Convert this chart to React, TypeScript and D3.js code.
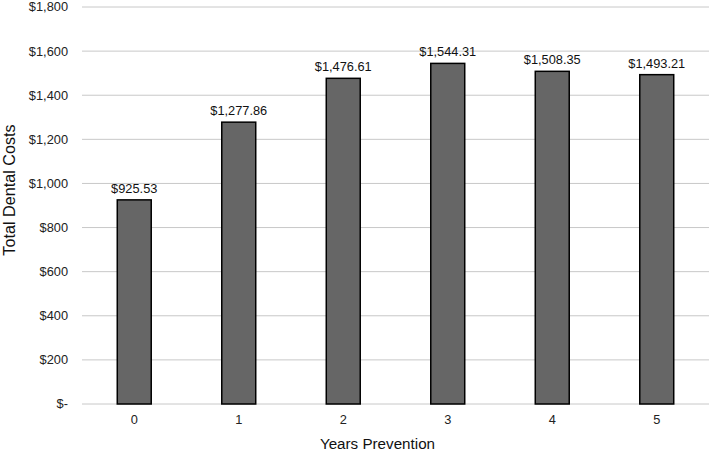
import React from "react";
import * as d3 from "d3";

const categories = ["0", "1", "2", "3", "4", "5"];
const values = [925.53, 1277.86, 1476.61, 1544.31, 1508.35, 1493.21];
const yTicks = [0, 200, 400, 600, 800, 1000, 1200, 1400, 1600, 1800];
const xTitle = "Years Prevention";
const yTitle = "Total Dental Costs";

const W = 709;
const H = 458;
const margin = { top: 7, right: 0, bottom: 54, left: 82 };

const fmtTick = (v: number) => (v === 0 ? "$-" : "$" + d3.format(",")(v));
const fmtVal = (v: number) => "$" + d3.format(",.2f")(v);

export default function App() {
  const x = d3
    .scaleBand<string>()
    .domain(categories)
    .range([margin.left, W - margin.right])
    .paddingInner(0.675)
    .paddingOuter(0.3375);
  const y = d3
    .scaleLinear()
    .domain([0, 1800])
    .range([H - margin.bottom, margin.top]);
  const font = "'Liberation Sans', Arial, Helvetica, sans-serif";
  return (
    <svg
      width={W}
      height={H}
      style={{ position: "absolute", left: 0, top: 0, fontFamily: font }}
    >
      <rect width={W} height={H} fill="#fff" />
      {yTicks.map((t) => (
        <g key={t}>
          <line
            x1={margin.left}
            x2={W - margin.right}
            y1={y(t)}
            y2={y(t)}
            stroke="#c8c8c8"
            strokeWidth={1}
          />
          <text
            x={68}
            y={y(t)}
            dy="0.35em"
            textAnchor="end"
            fontSize={12.8}
            fill="#222"
          >
            {fmtTick(t)}
          </text>
        </g>
      ))}
      {categories.map((c, i) => (
        <g key={c}>
          <rect
            x={x(c)!}
            y={y(values[i])}
            width={x.bandwidth()}
            height={y(0) - y(values[i])}
            fill="#666666"
            stroke="#000"
            strokeWidth={1.5}
          />
          <text
            x={x(c)! + x.bandwidth() / 2}
            y={y(values[i]) - 7}
            textAnchor="middle"
            fontSize={12.8}
            fill="#111"
          >
            {fmtVal(values[i])}
          </text>
          <text
            x={x(c)! + x.bandwidth() / 2}
            y={424}
            textAnchor="middle"
            fontSize={12.8}
            fill="#222"
          >
            {c}
          </text>
        </g>
      ))}
      <text
        x={(margin.left + W - margin.right) / 2 - 18}
        y={449}
        textAnchor="middle"
        fontSize={15.2}
        fill="#111"
      >
        {xTitle}
      </text>
      <text
        transform={`translate(15, 190) rotate(-90)`}
        textAnchor="middle"
        fontSize={16.2}
        fill="#111"
      >
        {yTitle}
      </text>
    </svg>
  );
}
